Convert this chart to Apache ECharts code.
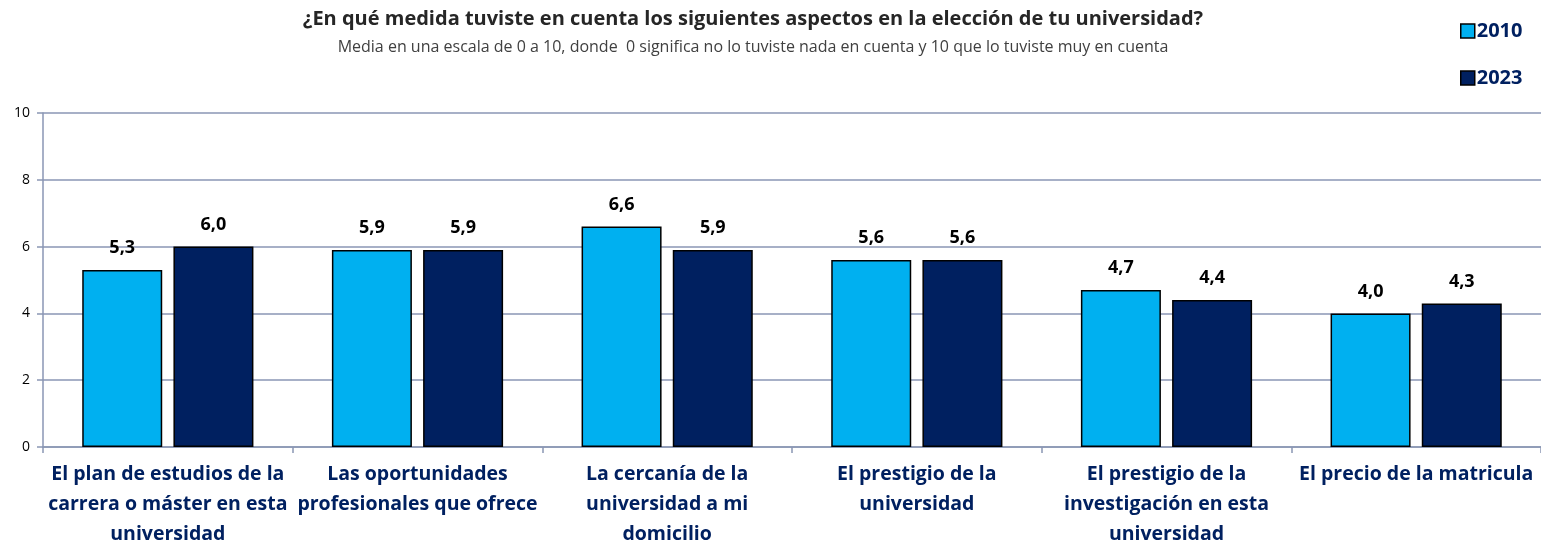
<!DOCTYPE html>
<html>
<head>
<meta charset="utf-8">
<script src="https://cdn.jsdelivr.net/npm/echarts@6/dist/echarts.min.js"></script>
<style>
  html, body { margin: 0; padding: 0; background: #fff; }
  #chart { width: 1541px; height: 546px; }
</style>
</head>
<body>
<div id="chart"></div>
<script>
var categories = [
  'El plan de estudios de la\ncarrera o máster en esta\nuniversidad',
  'Las oportunidades\nprofesionales que ofrece',
  'La cercanía de la\nuniversidad a mi\ndomicilio',
  'El prestigio de la\nuniversidad',
  'El prestigio de la\ninvestigación en esta\nuniversidad',
  'El precio de la matricula'
]
var values2010 = [5.3, 5.9, 6.6, 5.6, 4.7, 4.0]
var values2023 = [6.0, 5.9, 5.9, 5.6, 4.4, 4.3]
var yTicks = [0, 2, 4, 6, 8, 10]

var chart = echarts.init(document.getElementById('chart'))

var labelOpt = {
  show: true,
  position: 'top',
  distance: 13,
  fontFamily: 'Open Sans',
  fontWeight: 'bold',
  fontSize: 18,
  color: '#000000',
  formatter: function (p) {
    return p.value.toFixed(1).replace('.', ',')
  }
}

var option = {
  animation: false,
  textStyle: { fontFamily: 'Open Sans' },
  title: [{
    text: '¿En qué medida tuviste en cuenta los siguientes aspectos en la elección de tu universidad?',
    left: 748,
    textAlign: 'center',
    top: 4,
    textStyle: { fontFamily: 'Open Sans', fontSize: 20, fontWeight: 'bold', color: '#262626' }
  }, {
    text: 'Media en una escala de 0 a 10, donde  0 significa no lo tuviste nada en cuenta y 10 que lo tuviste muy en cuenta',
    left: 748,
    textAlign: 'center',
    top: 34,
    textStyle: { fontFamily: 'Open Sans', fontSize: 16, fontWeight: 'normal', color: '#404040' }
  }],
  legend: {
    orient: 'vertical',
    left: 1455,
    top: 16,
    itemGap: 27,
    itemWidth: 14,
    itemHeight: 14,
    icon: 'rect',
    textStyle: { fontFamily: 'Open Sans', fontSize: 20, fontWeight: 'bold', color: '#002060', padding: [0, 0, 0, -3] },
    data: [
      { name: '2010', itemStyle: { borderColor: '#000', borderWidth: 1.5 } },
      { name: '2023', itemStyle: { borderColor: '#000', borderWidth: 1.5 } }
    ]
  },
  grid: { left: 43, right: 0, top: 113, bottom: 99, outerBoundsMode: 'none', containLabel: false },
  xAxis: {
    type: 'category',
    data: categories,
    axisLine: { lineStyle: { color: '#8A96B4', width: 1.5 } },
    axisTick: { show: true, length: 6, lineStyle: { color: '#8A96B4', width: 1.5 } },
    axisLabel: {
      interval: 0,
      margin: 12,
      fontFamily: 'Open Sans',
      fontSize: 19.5,
      fontWeight: 'bold',
      color: '#002060',
      lineHeight: 30
    }
  },
  yAxis: {
    type: 'value',
    min: yTicks[0],
    max: yTicks[yTicks.length - 1],
    interval: 2,
    axisLine: { show: true, lineStyle: { color: '#8A96B4', width: 1.5 } },
    axisTick: { show: true, length: 6, lineStyle: { color: '#8A96B4', width: 1.5 } },
    axisLabel: { fontFamily: 'Open Sans', fontSize: 14, color: '#000', margin: 13 },
    splitLine: { lineStyle: { color: '#8A96B4', width: 1.5 } }
  },
  series: [{
    name: '2010',
    type: 'bar',
    barWidth: 80,
    barGap: '14%',
    data: values2010,
    itemStyle: { color: '#00B0F0', borderColor: '#000', borderWidth: 1.5 },
    label: labelOpt
  }, {
    name: '2023',
    type: 'bar',
    barWidth: 80,
    data: values2023,
    itemStyle: { color: '#002060', borderColor: '#000', borderWidth: 1.5 },
    label: labelOpt
  }]
}

chart.setOption(option)
</script>
</body>
</html>
